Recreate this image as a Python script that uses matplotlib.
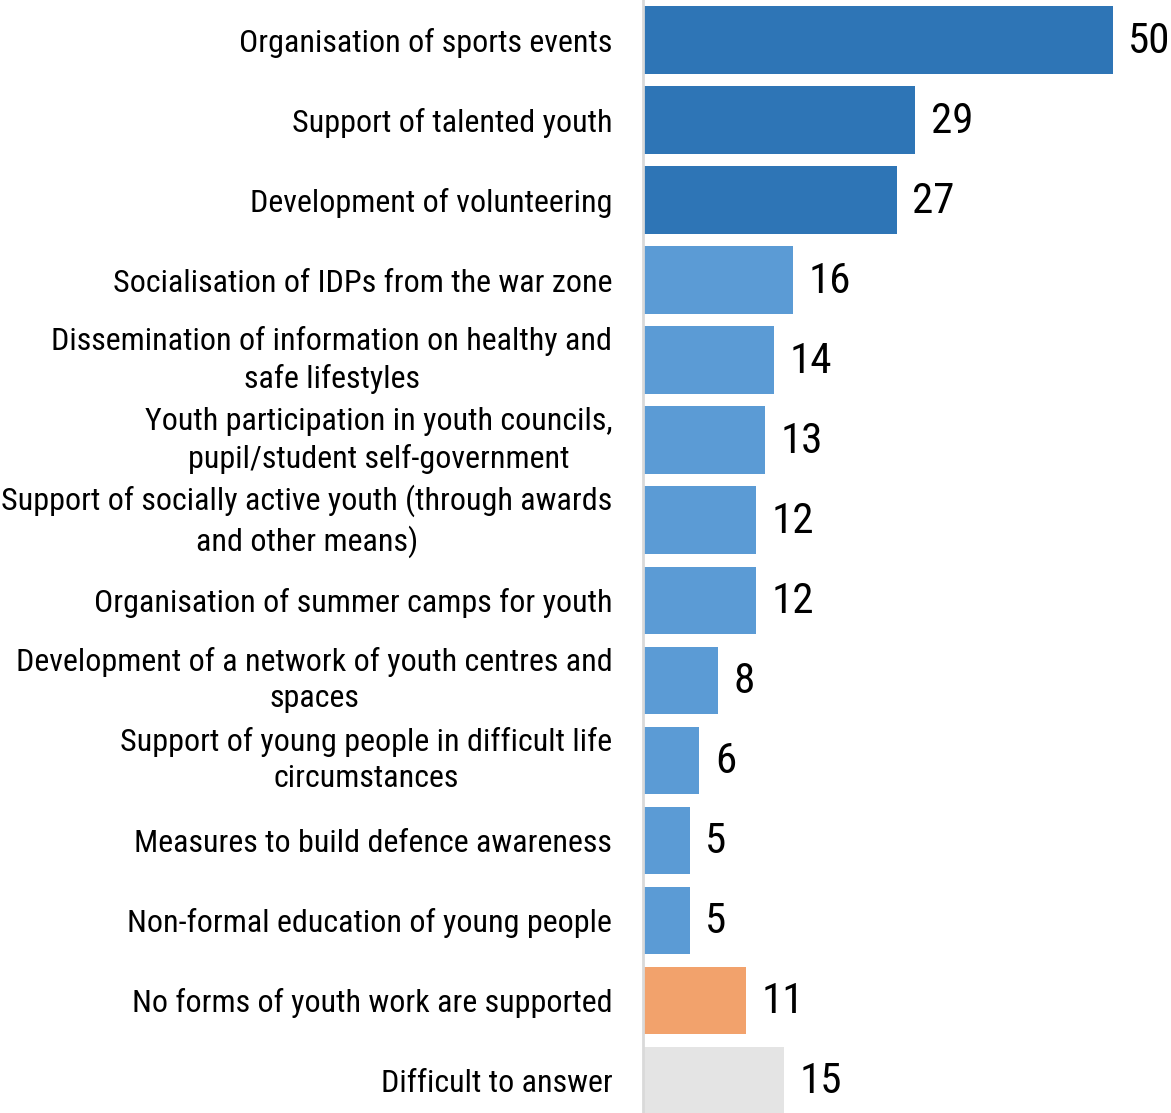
import matplotlib
matplotlib.use("Agg")
import matplotlib.pyplot as plt
from matplotlib import font_manager
from matplotlib.transforms import ScaledTranslation

# pick a condensed face when one is installed
names = {f.name for f in font_manager.fontManager.ttflist}
if "Roboto Condensed" in names:
    plt.rcParams["font.family"] = ["Roboto Condensed", "DejaVu Sans"]
else:
    plt.rcParams["font.family"] = ["Roboto", "DejaVu Sans"]

categories = [
    "Organisation of sports events",
    "Support of talented youth",
    "Development of volunteering",
    "Socialisation of IDPs from the war zone",
    "Dissemination of information on healthy and\nsafe lifestyles",
    "Youth participation in youth councils,\npupil/student self-government",
    "Support of socially active youth (through awards\nand other means)",
    "Organisation of summer camps for youth",
    "Development of a network of youth centres and\nspaces",
    "Support of young people in difficult life\ncircumstances",
    "Measures to build defence awareness",
    "Non-formal education of young people",
    "No forms of youth work are supported",
    "Difficult to answer",
]
values = [50, 29, 27, 16, 14, 13, 12, 12, 8, 6, 5, 5, 11, 15]
groups = ["top"] * 3 + ["other"] * 9 + ["none", "dk"]

group_colors = {"top": "#2E75B6", "other": "#5B9BD5", "none": "#F2A26C", "dk": "#E4E4E4"}

fig = plt.figure(figsize=(11.71, 11.13), dpi=100)
ax = fig.add_axes([0.549, 0.0, 0.451, 1.0])

y = list(range(len(categories)))
ax.barh(y, values, height=0.84, color=[group_colors[g] for g in groups])

for yi, v in zip(y, values):
    ax.text(v + 1.65, yi + 0.02, str(v), va="center", ha="left", fontsize=31, color="black")

ax.set_xlim(0, 56.2)
ax.set_ylim(13.41, -0.5)
ax.set_yticks(y)
ax.set_yticklabels(categories, fontsize=23, multialignment="center", linespacing=1.33)
ax.tick_params(axis="y", length=0, pad=22)
ax.set_xticks([])

# two-line labels sit a little low, nudge them up
lift = ScaledTranslation(0, 5 / 72, fig.dpi_scale_trans)
for lbl in ax.get_yticklabels():
    if "\n" in lbl.get_text():
        lbl.set_transform(lbl.get_transform() + lift)

for side in ["top", "right", "bottom"]:
    ax.spines[side].set_visible(False)
ax.spines["left"].set_color("#D9D9D9")
ax.spines["left"].set_linewidth(2)

fig.savefig("out.png", dpi=100)
